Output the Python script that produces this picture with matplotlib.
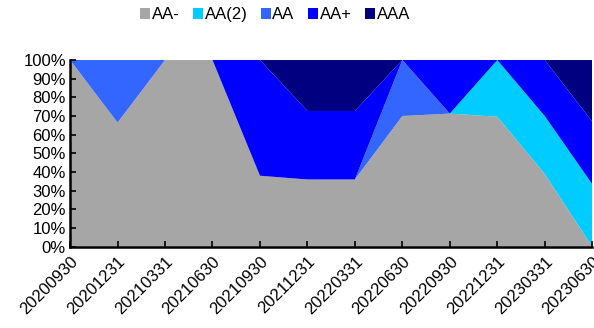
import numpy as np
import matplotlib.pyplot as plt
from matplotlib.ticker import PercentFormatter

plt.rcParams['font.family'] = ['Liberation Sans', 'DejaVu Sans']

dates = ['20200930', '20201231', '20210331', '20210630', '20210930', '20211231',
         '20220331', '20220630', '20220930', '20221231', '20230331', '20230630']
labels = ['AA-', 'AA(2)', 'AA', 'AA+', 'AAA']
aa_minus = [100, 66.5, 100, 100, 38, 36, 36, 70, 71.3, 69.6, 39, 0]
aa_2 = [0, 0, 0, 0, 0, 0, 0, 0, 0, 30.4, 31, 33.5]
aa = [0, 33.5, 0, 0, 0, 0, 0, 30, 0, 0, 0, 0]
aa_plus = [0, 0, 0, 0, 62, 36.7, 36.7, 0, 28.7, 0, 30, 33.5]
aaa = [0, 0, 0, 0, 0, 27.3, 27.3, 0, 0, 0, 0, 33]
colors = ['#A6A6A6', '#00CCFF', '#3366FF', '#0000FF', '#000080']

fig = plt.figure(figsize=(5.94, 3.28), dpi=100)
ax = fig.add_axes([0.118, 0.248, 0.879, 0.569])
x = np.arange(len(dates))
ax.stackplot(x, aa_minus, aa_2, aa, aa_plus, aaa, labels=labels,
             colors=colors, linewidth=0)

ax.set_xlim(0, len(dates) - 1)
ax.set_ylim(0, 100)
ax.set_yticks(np.arange(0, 101, 10))
ax.yaxis.set_major_formatter(PercentFormatter(decimals=0))
ax.set_xticks(x)
ax.set_xticklabels(dates, rotation=45, ha='right', rotation_mode='anchor')
ax.tick_params(direction='in', length=4, width=1.2, labelsize=12, colors='black')
ax.tick_params(axis='x', pad=5)
ax.tick_params(axis='y', pad=3)
for s in ['top', 'right']:
    ax.spines[s].set_visible(False)
for s in ['left', 'bottom']:
    ax.spines[s].set_linewidth(1.8)

fig.legend(loc='center', bbox_to_anchor=(0.463, 0.955), ncol=5, frameon=False,
           fontsize=12, handlelength=0.6, handleheight=0.6, handletextpad=0.1,
           columnspacing=0.8)

fig.savefig('out.png', dpi=100)
